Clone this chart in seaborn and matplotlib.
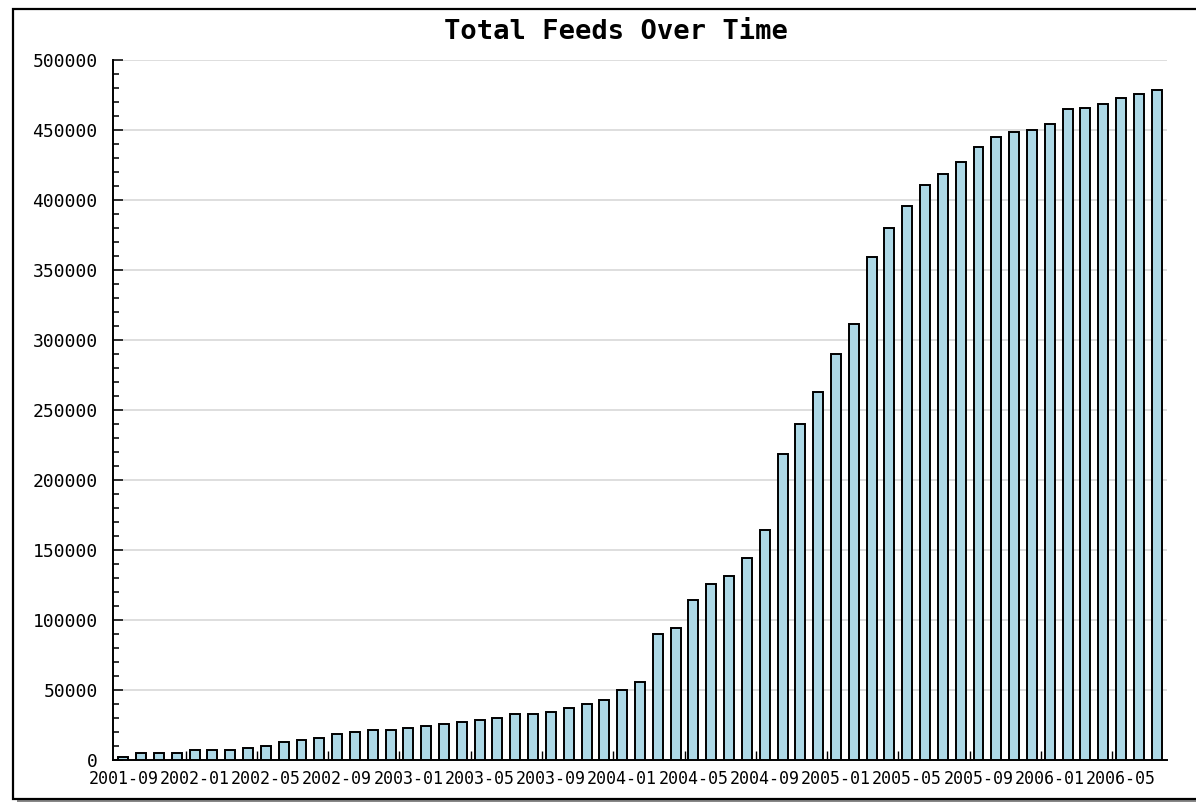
import matplotlib
matplotlib.use("Agg")
import matplotlib.pyplot as plt
from matplotlib.patches import Rectangle
from matplotlib.ticker import MultipleLocator
import numpy as np
import pandas as pd
import seaborn as sns

# monthly totals, 2001-09 .. 2006-07
months = [str(p) for p in pd.period_range("2001-09", periods=59, freq="M")]
feeds = [2400, 5300, 5300, 5300, 7000, 7000, 7000, 8400, 9900, 12700,
         14400, 15600, 18300, 20000, 21400, 21400, 22800, 24300, 25700, 27200,
         28600, 30000, 32900, 32900, 34600, 37300, 40100, 43000, 50200, 56000,
         90200, 94100, 114300, 125400, 131400, 144000, 164100, 218500, 240100, 262600,
         290200, 311500, 359000, 380300, 396000, 410500, 418800, 427400, 437600, 444800,
         448800, 450200, 454500, 464800, 465900, 468800, 473100, 475700, 478600]

df = pd.DataFrame({"month": months, "feeds": feeds})

sns.set_theme(style="white")
plt.rcParams["font.family"] = ["DejaVu Sans Mono"]
plt.rcParams["text.color"] = "black"
plt.rcParams["xtick.color"] = "black"
plt.rcParams["ytick.color"] = "black"

W, H = 1196, 802
fig = plt.figure(figsize=(W / 100, H / 100), dpi=100)

# outer frame with drop shadow
fig.patches.append(Rectangle((17 / W, 0), 1.0, 1 - 13 / H, transform=fig.transFigure,
                             facecolor="#888888", edgecolor="none", zorder=-3))
fig.patches.append(Rectangle((13 / W, 1 - 799 / H), 1.0, (799 - 9) / H, transform=fig.transFigure,
                             facecolor="white", edgecolor="black", linewidth=1.6, zorder=-2))

ax = fig.add_axes([113 / W, 1 - 760 / H, (1167 - 113) / W, (760 - 60) / H])
ax.set_facecolor("none")

sns.barplot(data=df, x="month", y="feeds", color="#ADD8E6", saturation=1,
            edgecolor="black", linewidth=1.4, width=0.56, ax=ax, zorder=3)

ax.set_xlim(-0.58, len(months) - 1 + 0.58)
ax.set_ylim(0, 500000)
ax.set_xlabel("")
ax.set_ylabel("")

ax.yaxis.set_major_locator(MultipleLocator(50000))
ax.yaxis.set_minor_locator(MultipleLocator(10000))
ax.grid(axis="y", which="major", color="#dedede", linewidth=1.4, zorder=0)
ax.set_axisbelow(True)

ax.set_xticks(range(0, len(months), 4))
ax.set_xticklabels(months[::4])
ax.set_xticks(np.arange(3.5, len(months) - 1, 4), minor=True)

ax.tick_params(axis="y", which="major", direction="in", length=7, width=1.1,
               labelsize=13, pad=11, left=True)
ax.tick_params(axis="y", which="minor", direction="in", length=4, width=1.1, left=True)
ax.tick_params(axis="x", which="major", length=0, labelsize=12, pad=7)
ax.tick_params(axis="x", which="minor", direction="in", length=6.5, width=1.0, bottom=True)

for side in ["top", "right"]:
    ax.spines[side].set_visible(False)
for side in ["left", "bottom"]:
    ax.spines[side].set_color("black")
    ax.spines[side].set_linewidth(1.4)

fig.text(616 / W, 1 - 32 / H, "Total Feeds Over Time", ha="center", va="center",
         fontsize=19.5, fontweight="bold")

fig.savefig("out.png", dpi=100)
